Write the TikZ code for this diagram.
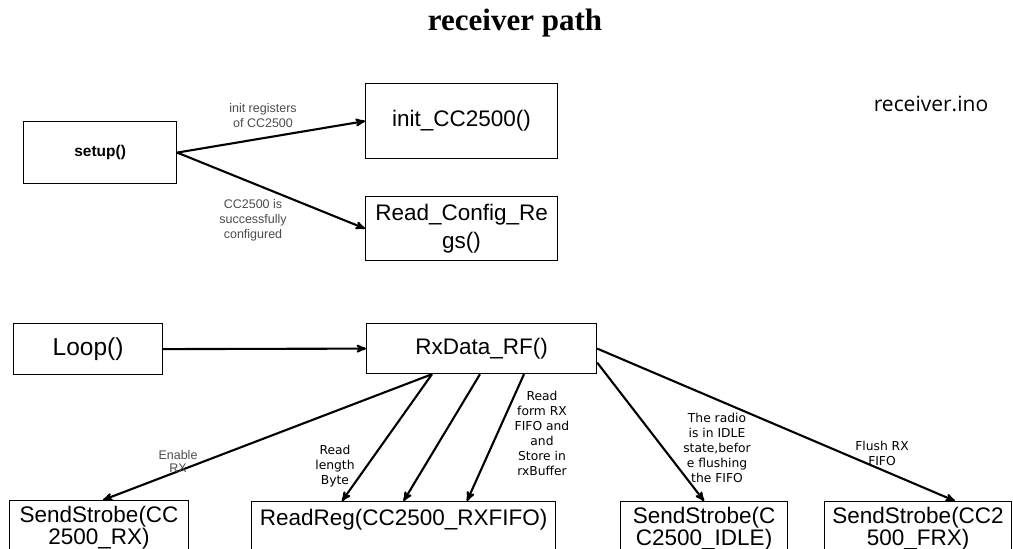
\documentclass[tikz,border=0pt]{standalone}
\usepackage{fontspec}
\setmainfont{Liberation Sans}
\newfontfamily\titlefont{Liberation Serif}
\newfontfamily\notefont{DejaVu Sans}
\newfontfamily\filefont{Open Sans}
\usetikzlibrary{arrows,positioning}

\begin{document}
\begin{tikzpicture}[
    x=1pt, y=-1pt,
    >=stealth',
    box/.style = {
      draw,
      line width = 1.2pt,
      anchor = north west,
      inner sep = 0pt,
      align = center,
      font = \fontsize{22.5}{22.5}\selectfont
    },
    conn/.style = {->, line width = 2.1pt},
    note/.style = {align = center, font = \notefont\fontsize{12.3}{15}\selectfont},
    small/.style = {align = center, text = black!70, font = \fontsize{12.5}{15}\selectfont}
  ]
\useasboundingbox (0,0) rectangle (1013,549);
\clip (0,0) rectangle (1013,549);

% titles
\node[font=\titlefont\bfseries\fontsize{31}{34}\selectfont] (title) at (515,23) {receiver path};
\node[font=\filefont\fontsize{21}{24}\selectfont] (file) at (931,104) {receiver.ino};

% setup part
\node[box, minimum width=153pt, minimum height=62pt, font=\bfseries\fontsize{15.5}{18}\selectfont] (setup) at (23,121) {setup()};
\node[box, minimum width=192pt, minimum height=75pt] (init) at (365,83) {init\_CC2500()};
\node[box, minimum width=192pt, minimum height=64pt, font=\fontsize{22.5}{28}\selectfont] (cfg) at (365,196) {Read\_Config\_Re\\gs()};

\draw[conn] (setup.east) -- (init.west);
\draw[conn] (setup.east) -- (cfg.west);

\node[small] (lInit) at (263,116) {init registers\\of CC2500};
\node[small] (lCfg) at (253,220) {CC2500 is\\successfully\\configured};

% loop part
\node[box, minimum width=149pt, minimum height=51pt, font=\fontsize{24.5}{26}\selectfont] (loop) at (13,323) {Loop()};
\node[box, minimum width=230pt, minimum height=50pt] (rx) at (366,323) {RxData\_RF()};

\node[box, minimum width=179pt, minimum height=54pt] (srx) at (9,500) {SendStrobe(CC\\2500\_RX)};
\node[box, minimum width=304pt, minimum height=54pt] (rr) at (251,501) {ReadReg(CC2500\_RXFIFO)\\\mbox{}};
\node[box, minimum width=167pt, minimum height=54pt] (idle) at (620,501) {SendStrobe(C\\C2500\_IDLE)};
\node[box, minimum width=187pt, minimum height=54pt] (frx) at (824,501) {SendStrobe(CC2\\500\_FRX)};

\draw[conn] (loop.east) -- (rx.west);
\draw[conn] ([xshift=66pt]rx.south west) -- ([xshift=94pt]srx.north west);
\draw[conn] ([xshift=66pt]rx.south west) -- ([xshift=91pt]rr.north west);
\draw[conn] ([xshift=114pt]rx.south west) -- (rr.north);
\draw[conn] ([xshift=158pt]rx.south west) -- ([xshift=216pt]rr.north west);
\draw[conn] ([yshift=-14pt]rx.east) -- (idle.north);
\draw[conn] (rx.east) -- ([xshift=131pt]frx.north west);

\node[small, font=\fontsize{12.5}{13}\selectfont] (lEnable) at (178,461) {Enable\\RX};
\node[note] (lLen) at (335,466) {Read\\length\\Byte};
\node[note] (lFifo) at (542,433) {Read\\form RX\\FIFO and\\and\\Store in\\rxBuffer};
\node[note] (lIdle) at (717,448) {The radio\\is in IDLE\\state,befor\\e flushing\\the FIFO};
\node[note] (lFlush) at (882,453) {Flush RX\\FIFO};

\end{tikzpicture}
\end{document}
